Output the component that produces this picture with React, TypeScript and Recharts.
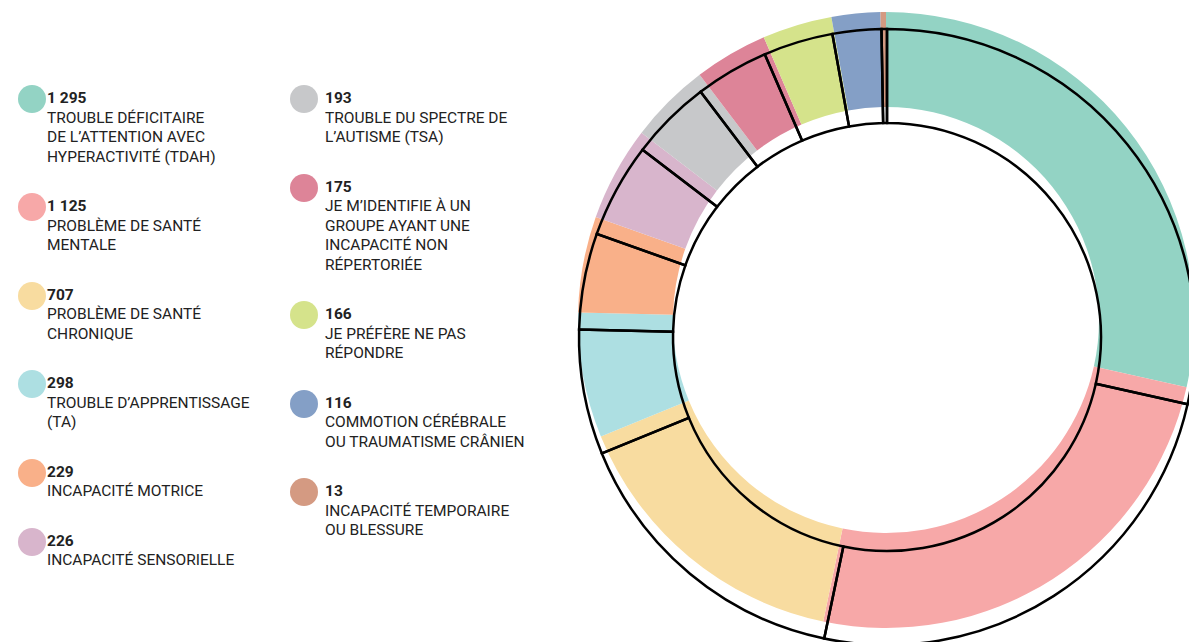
import { PieChart, Pie, Cell } from "recharts";

const counts = [1295, 1125, 707, 298, 229, 226, 193, 175, 166, 116, 13];
const labels = [
  ["TROUBLE DÉFICITAIRE", "DE L’ATTENTION AVEC", "HYPERACTIVITÉ (TDAH)"],
  ["PROBLÈME DE SANTÉ", "MENTALE"],
  ["PROBLÈME DE SANTÉ", "CHRONIQUE"],
  ["TROUBLE D’APPRENTISSAGE", "(TA)"],
  ["INCAPACITÉ MOTRICE"],
  ["INCAPACITÉ SENSORIELLE"],
  ["TROUBLE DU SPECTRE DE", "L’AUTISME (TSA)"],
  ["JE M’IDENTIFIE À UN", "GROUPE AYANT UNE", "INCAPACITÉ NON", "RÉPERTORIÉE"],
  ["JE PRÉFÈRE NE PAS", "RÉPONDRE"],
  ["COMMOTION CÉRÉBRALE", "OU TRAUMATISME CRÂNIEN"],
  ["INCAPACITÉ TEMPORAIRE", "OU BLESSURE"],
];
const colors = [
  "#93d3c4", "#f7a8a8", "#f8dca0", "#addfe2", "#f9b089", "#d8b5cc",
  "#c7c8ca", "#dd8498", "#d5e38b", "#849fc6", "#d49a82",
];

const data = counts.map((value, i) => ({ name: labels[i].join(" "), value }));

const fmt = (n: number) => n.toLocaleString("fr-FR").replace(/\s/g, " ");

function LegendColumn({ items, left, top, pad }: { items: number[]; left: number; top: number; pad: number }) {
  return (
    <div style={{ position: "absolute", left, top }}>
      {items.map((i) => (
        <div key={i} style={{ position: "relative", marginBottom: 30, paddingLeft: pad }}>
          <div
            style={{
              position: "absolute",
              left: 0,
              top: -4,
              width: 28,
              height: 28,
              borderRadius: "50%",
              background: colors[i],
            }}
          />
          <div style={{ fontWeight: 700, lineHeight: "19.5px" }}>{fmt(counts[i])}</div>
          {labels[i].map((l, j) => (
            <div key={j} style={{ lineHeight: "19.5px" }}>{l}</div>
          ))}
        </div>
      ))}
    </div>
  );
}

export default function App() {
  return (
    <div
      style={{
        position: "absolute",
        left: 0,
        top: 0,
        width: 1189,
        height: 642,
        overflow: "hidden",
        background: "#fff",
        fontFamily: "Roboto, 'Noto Sans', sans-serif",
        fontSize: 15.5,
        color: "#222",
      }}
    >
      <LegendColumn items={[0, 1, 2, 3, 4, 5]} left={18} top={89} pad={29} />
      <LegendColumn items={[6, 7, 8, 9, 10]} left={290} top={89} pad={35} />
      <div style={{ position: "absolute", left: 0, top: 0 }}>
        <PieChart width={1189} height={642}>
          <Pie
            data={data}
            dataKey="value"
            cx={881}
            cy={315}
            innerRadius={213}
            outerRadius={308}
            startAngle={90}
            endAngle={-270}
            stroke="none"
            isAnimationActive={false}
          >
            {data.map((d, i) => (
              <Cell key={d.name} fill={colors[i]} />
            ))}
          </Pie>
          <Pie
            data={data}
            dataKey="value"
            cx={882}
            cy={332}
            innerRadius={214}
            outerRadius={308}
            startAngle={90}
            endAngle={-270}
            fill="none"
            stroke="#000"
            strokeWidth={2.5}
            isAnimationActive={false}
          >
            {data.map((d) => (
              <Cell key={d.name} fill="none" stroke="#000" strokeWidth={2.5} />
            ))}
          </Pie>
        </PieChart>
      </div>
    </div>
  );
}
